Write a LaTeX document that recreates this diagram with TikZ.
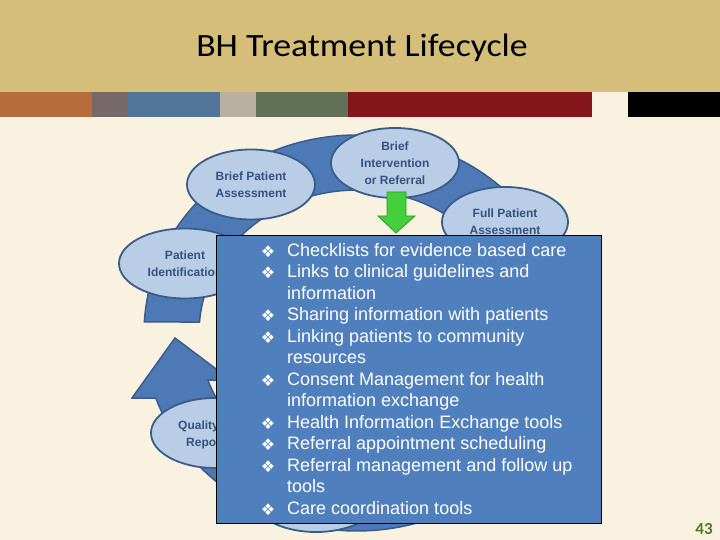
\documentclass[tikz,border=0pt]{standalone}
\usepackage{fontspec}
\usepackage{graphicx}
\setmainfont{Liberation Sans}
\newfontfamily\titlefnt{Carlito}
\newfontfamily\bulfnt{DejaVu Sans}
\usetikzlibrary{shapes.geometric}
\definecolor{pagebg}{HTML}{F9F2E0}
\definecolor{headtan}{HTML}{D5BD7A}
\definecolor{barA}{HTML}{B66D3B}
\definecolor{barB}{HTML}{77686A}
\definecolor{barC}{HTML}{52769A}
\definecolor{barD}{HTML}{BAB09F}
\definecolor{barE}{HTML}{627155}
\definecolor{barF}{HTML}{84161B}
\definecolor{ringfill}{HTML}{4D7AB6}
\definecolor{ringline}{HTML}{3A5C8A}
\definecolor{ellfill}{HTML}{B9CDE6}
\definecolor{elltext}{HTML}{34527F}
\definecolor{boxblue}{HTML}{4F7FBC}
\definecolor{arrgreen}{HTML}{45CF3C}
\definecolor{arrline}{HTML}{2F9A2A}
\definecolor{pagenum}{HTML}{4F7A1F}
\begin{document}
\begin{tikzpicture}[x=1pt,y=-1pt,
  stage/.style={ellipse, draw=ringline, line width=1.8pt, fill=ellfill,
    minimum width=128pt, minimum height=70pt, inner sep=0pt, align=center,
    text=elltext, font=\fontsize{12}{17}\selectfont\bfseries},
  stagetext/.style={anchor=base west, inner sep=0pt, text=elltext, font=\fontsize{12}{17}\selectfont\bfseries},
  item/.style={anchor=base west, text=white, font=\fontsize{18}{21.5}\selectfont, inner sep=0pt},
  bul/.style={anchor=base, text=white, font=\bulfnt\fontsize{16}{16}\selectfont, inner sep=0pt}]
\useasboundingbox (0,0) rectangle (720,540);
\fill[pagebg] (0,0) rectangle (720,540);
% header
\fill[headtan] (0,0) rectangle (720,92);
\fill[barA] (0,92) rectangle (92,117);
\fill[barB] (92,92) rectangle (128,117);
\fill[barC] (128,92) rectangle (220,117);
\fill[barD] (220,92) rectangle (256,117);
\fill[barE] (256,92) rectangle (348,117);
\fill[barF] (348,92) rectangle (592,117);
\fill[black] (628,92) rectangle (720,117);
\node[font=\titlefnt\fontsize{32.5}{38}\selectfont, anchor=base] (title) at (362,57) {\scalebox{1.1}[1]{BH Treatment Lifecycle}};
% cycle ring with arrowhead
\path[fill=ringfill, draw=ringline, line width=1.5pt]
  plot[domain=183.2:520.8, samples=200] ({357+213*cos(\x)},{333+198*sin(\x)})
  -- (132,398) -- (175,338) -- (232,381)
  -- plot[domain=520.8:184.4, samples=200] ({357+158*cos(\x)},{333+143*sin(\x)})
  -- cycle;
% stages
\node[stage] (bpa) at (251,184.5) {Brief Patient\\Assessment};
\node[stage] (bir) at (395,163) {Brief\\Intervention\\or Referral};
\node[stage, minimum width=126pt] (fpa) at (505,222) {Full Patient\\Assessment};
\node[stage, minimum width=132pt] (pid) at (185,263.5) {Patient\\Identification};
\node[stage] (qr) at (215,433) {};
\node[stagetext] (qrA) at (178,429.5) {Quality};
\node[stagetext] (qrB) at (186,446.5) {Reporting};
\node[stage] (bot) at (316,497) {};
% green arrow
\draw[fill=arrgreen, draw=arrline, line width=0.8pt]
  (387,192) -- (406,192) -- (406,216) -- (415,216) -- (396,233) -- (378,216) -- (387,216) -- cycle;
% info box
\node[draw=black, line width=1.2pt, fill=boxblue, minimum width=385pt, minimum height=288pt,
  anchor=north west, inner sep=0pt] (box) at (216,235) {};
\foreach \txt [count=\i from 0] in {Checklists for evidence based care,
  Links to clinical guidelines and, information, Sharing information with patients,
  Linking patients to community, resources, Consent Management for health,
  information exchange, Health Information Exchange tools, Referral appointment scheduling,
  Referral management and follow up, tools, Care coordination tools}
  {\node[item] (line\i) at (287,{256+21.5*\i}) {\txt};}
\foreach \i in {0,1,3,4,6,8,9,10,12}
  {\node[bul] (bul\i) at (268,{257+21.5*\i}) {❖};}
% page number
\node[anchor=base, text=pagenum, font=\titlefnt\fontsize{17}{20}\selectfont\bfseries] (pnum) at (704,534) {43};
\end{tikzpicture}
\end{document}
